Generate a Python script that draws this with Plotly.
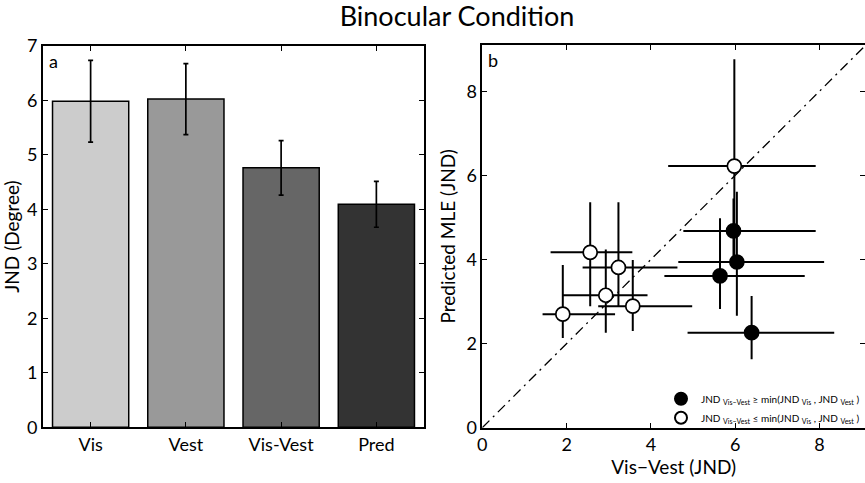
import plotly.graph_objects as go

# ---------- Panel a data ----------
conditions = ["Vis", "Vest", "Vis-Vest", "Pred"]
jnd_mean = [5.98, 6.02, 4.76, 4.09]
jnd_err = [0.75, 0.65, 0.50, 0.42]
bar_colors = ["#cccccc", "#999999", "#666666", "#333333"]

# ---------- Panel b data (filled: JND_VisVest >= min) ----------
filled_x = [5.96, 6.04, 5.64, 6.39]
filled_y = [4.68, 3.94, 3.61, 2.26]
filled_x_lo = [4.77, 4.65, 4.32, 4.87]
filled_x_hi = [7.91, 8.11, 7.65, 8.35]
filled_y_lo = [4.05, 2.66, 2.82, 1.63]
filled_y_hi = [5.45, 5.61, 4.98, 3.13]

# ---------- Panel b data (open: JND_VisVest <= min) ----------
open_x = [1.91, 2.56, 3.23, 2.93, 3.57, 5.98]
open_y = [2.70, 4.17, 3.81, 3.15, 2.89, 6.22]
open_x_lo = [1.43, 1.62, 2.38, 1.90, 2.75, 4.41]
open_x_hi = [3.15, 3.56, 4.63, 3.92, 4.98, 7.91]
open_y_lo = [2.13, 2.89, 2.88, 2.26, 2.30, 4.00]
open_y_hi = [3.87, 5.36, 5.36, 4.24, 3.99, 8.76]

diag = [0, 9.1]

y_ticks_a = [0, 1, 2, 3, 4, 5, 6, 7]
ticks_b = [0, 2, 4, 6, 8]

FONT = "Lato"

fig = go.Figure()

# Bars
fig.add_trace(go.Bar(
    x=[1, 2, 3, 4], y=jnd_mean, width=0.8,
    marker=dict(color=bar_colors, line=dict(color="black", width=1.5)),
    error_y=dict(type="data", array=jnd_err, color="black", thickness=1.7, width=2.5),
    xaxis="x", yaxis="y", showlegend=False,
))

# Diagonal
fig.add_trace(go.Scatter(
    x=diag, y=diag, mode="lines",
    line=dict(color="black", width=1.3, dash="10px,5px,2px,5px"),
    xaxis="x2", yaxis="y2", showlegend=False, hoverinfo="skip",
))

def minus(c, lo):
    return [a - b for a, b in zip(c, lo)]

def plus(c, hi):
    return [b - a for a, b in zip(c, hi)]

fig.add_trace(go.Scatter(
    x=open_x, y=open_y, mode="markers",
    marker=dict(symbol="circle", size=14, color="white", line=dict(color="black", width=1.7)),
    error_x=dict(type="data", symmetric=False, array=plus(open_x, open_x_hi),
                 arrayminus=minus(open_x, open_x_lo), color="black", thickness=2, width=0),
    error_y=dict(type="data", symmetric=False, array=plus(open_y, open_y_hi),
                 arrayminus=minus(open_y, open_y_lo), color="black", thickness=2, width=0),
    xaxis="x2", yaxis="y2", showlegend=False,
))

fig.add_trace(go.Scatter(
    x=filled_x, y=filled_y, mode="markers",
    marker=dict(symbol="circle", size=14, color="black", line=dict(color="black", width=1.7)),
    error_x=dict(type="data", symmetric=False, array=plus(filled_x, filled_x_hi),
                 arrayminus=minus(filled_x, filled_x_lo), color="black", thickness=2, width=0),
    error_y=dict(type="data", symmetric=False, array=plus(filled_y, filled_y_hi),
                 arrayminus=minus(filled_y, filled_y_lo), color="black", thickness=2, width=0),
    xaxis="x2", yaxis="y2", showlegend=False,
))

# Legend entries
fig.add_trace(go.Scatter(
    x=[None], y=[None], mode="markers",
    marker=dict(symbol="circle", size=12, color="black", line=dict(color="black", width=1.5)),
    name="JND <sub>Vis−Vest</sub> ≥ min(JND <sub>Vis</sub> , JND <sub>Vest</sub> )",
    xaxis="x2", yaxis="y2", showlegend=True,
))
fig.add_trace(go.Scatter(
    x=[None], y=[None], mode="markers",
    marker=dict(symbol="circle", size=12, color="white", line=dict(color="black", width=1.5)),
    name="JND <sub>Vis−Vest</sub> ≤ min(JND <sub>Vis</sub> , JND <sub>Vest</sub> )",
    xaxis="x2", yaxis="y2", showlegend=True,
))

axis_common = dict(
    showline=True, linecolor="black", linewidth=1.7, mirror="ticks",
    ticks="inside", ticklen=5, tickwidth=1.2, tickcolor="black",
    showgrid=False, zeroline=False, automargin=False,
    tickfont=dict(family=FONT, size=18, color="black"),
)

fig.update_layout(
    width=865, height=483,
    margin=dict(l=0, r=0, t=0, b=0, autoexpand=False),
    paper_bgcolor="white", plot_bgcolor="white",
    font=dict(family=FONT, color="black"),
    title=dict(text="Binocular Condition", x=457 / 865, xanchor="center",
               y=1 - 16.5 / 483, yanchor="middle", automargin=False,
               font=dict(family=FONT, size=27, color="black")),
    xaxis=dict(domain=[43 / 865, 424 / 865], range=[0.5, 4.5],
               tickmode="array", tickvals=[1, 2, 3, 4], ticktext=conditions,
               anchor="y", **axis_common),
    yaxis=dict(domain=[(483 - 427.3) / 483, (483 - 45.7) / 483], range=[0, 7],
               tickmode="array", tickvals=y_ticks_a,
               title=dict(text="JND (Degree)", font=dict(family=FONT, size=19), standoff=5),
               anchor="x", **axis_common),
    xaxis2=dict(domain=[482.3 / 865, 1.0], range=[0, 9.08],
                tickmode="array", tickvals=ticks_b,
                title=dict(text="Vis−Vest (JND)", font=dict(family=FONT, size=19), standoff=2),
                anchor="y2", **axis_common),
    yaxis2=dict(domain=[(483 - 427.7) / 483, (483 - 45) / 483], range=[0, 9.1],
                tickmode="array", tickvals=ticks_b,
                title=dict(text="Predicted MLE (JND)", font=dict(family=FONT, size=19), standoff=6),
                anchor="x2", **axis_common),
    legend=dict(x=1.0, xanchor="right", y=0.105, yanchor="bottom",
                bgcolor="rgba(0,0,0,0)", borderwidth=0,
                font=dict(family=FONT, size=10, color="black"),
                itemwidth=30, tracegroupgap=0, itemsizing="constant"),
    annotations=[
        dict(text="a", xref="x domain", yref="y domain", x=0.01, y=0.995,
             xanchor="left", yanchor="top", showarrow=False,
             font=dict(family=FONT, size=18, color="black")),
        dict(text="b", xref="x2 domain", yref="y2 domain", x=0.01, y=0.995,
             xanchor="left", yanchor="top", showarrow=False,
             font=dict(family=FONT, size=18, color="black")),
    ],
    bargap=0.2,
)

fig.write_html("out.html")
